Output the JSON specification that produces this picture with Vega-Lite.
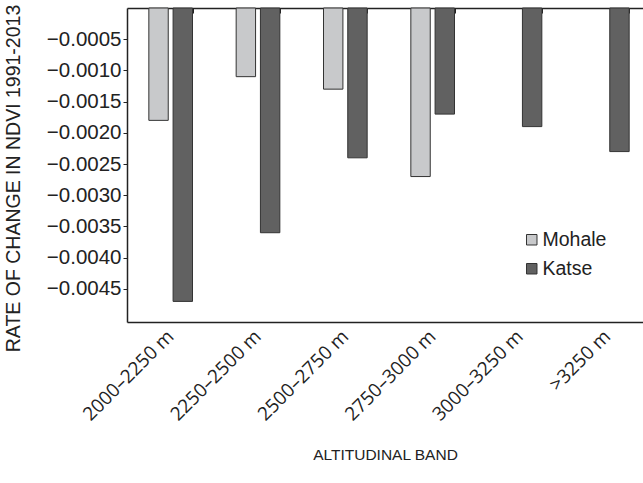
{
  "$schema": "https://vega.github.io/schema/vega-lite/v6.json",
  "autosize": {"type": "none"},
  "padding": {"left": 127, "top": 8, "right": 0, "bottom": 161},
  "width": 516,
  "height": 314,
  "background": "white",
  "config": {
    "view": {"stroke": null},
    "font": "Liberation Sans"
  },
  "data": {
    "values": [
      {"band": "2000–2250 m", "site": "Mohale", "value": -0.0018},
      {"band": "2000–2250 m", "site": "Katse", "value": -0.0047},
      {"band": "2250–2500 m", "site": "Mohale", "value": -0.0011},
      {"band": "2250–2500 m", "site": "Katse", "value": -0.0036},
      {"band": "2500–2750 m", "site": "Mohale", "value": -0.0013},
      {"band": "2500–2750 m", "site": "Katse", "value": -0.0024},
      {"band": "2750–3000 m", "site": "Mohale", "value": -0.0027},
      {"band": "2750–3000 m", "site": "Katse", "value": -0.0017},
      {"band": "3000–3250 m", "site": "Katse", "value": -0.0019},
      {"band": ">3250 m", "site": "Katse", "value": -0.0023}
    ]
  },
  "layer": [
    {
      "mark": {"type": "bar", "stroke": "#333333", "strokeWidth": 1},
      "encoding": {
        "x": {
          "field": "band",
          "type": "nominal",
          "sort": ["2000–2250 m", "2250–2500 m", "2500–2750 m", "2750–3000 m", "3000–3250 m", ">3250 m"],
          "scale": {"range": [0, 524], "paddingInner": 0.5, "paddingOuter": 0.25},
          "axis": {
            "orient": "bottom",
            "title": "ALTITUDINAL BAND",
            "titleFont": "Liberation Sans",
            "titleFontSize": 15.5,
            "titleFontWeight": "normal",
            "titleColor": "#222222",
            "titleX": 258,
            "titleY": 132,
            "titleBaseline": "middle",
            "titleAlign": "center",
            "labelAngle": -45,
            "labelAlign": "right",
            "labelBaseline": "middle",
            "labelFont": "Open Sans",
            "labelFontSize": 19,
            "labelColor": "#222222",
            "labelPadding": 11,
            "labelOverlap": false,
            "ticks": false,
            "domain": true,
            "domainColor": "#222222",
            "domainWidth": 1.5,
            "grid": false
          }
        },
        "xOffset": {
          "field": "site",
          "type": "nominal",
          "sort": ["Mohale", "Katse"],
          "scale": {"paddingInner": 0.2, "paddingOuter": 0}
        },
        "y": {
          "field": "value",
          "type": "quantitative",
          "scale": {"domain": [-0.00503, 0], "nice": false, "zero": false},
          "axis": {
            "values": [-0.0005, -0.001, -0.0015, -0.002, -0.0025, -0.003, -0.0035, -0.004, -0.0045],
            "format": ".4f",
            "title": "RATE OF CHANGE IN NDVI 1991-2013",
            "titleFont": "Liberation Sans",
            "titleFontSize": 19.5,
            "titleFontWeight": "normal",
            "titleColor": "#222222",
            "titleAngle": -90,
            "titleX": -114,
            "titleY": 170,
            "titleAlign": "center",
            "titleBaseline": "middle",
            "labelFont": "Liberation Sans",
            "labelFontSize": 20.5,
            "labelColor": "#222222",
            "labelPadding": 2,
            "tickSize": 4,
            "tickColor": "#222222",
            "domainColor": "#222222",
            "domainWidth": 1.5,
            "grid": false
          }
        },
        "fill": {
          "field": "site",
          "type": "nominal",
          "sort": ["Mohale", "Katse"],
          "scale": {"domain": ["Mohale", "Katse"], "range": ["#c8c9cb", "#616161"]},
          "legend": {
            "orient": "none",
            "legendX": 395,
            "legendY": 222,
            "title": null,
            "symbolType": "square",
            "symbolSize": 110,
            "symbolStrokeColor": "#333333",
            "symbolStrokeWidth": 1,
            "labelFont": "Liberation Sans",
            "labelFontSize": 19.5,
            "labelColor": "#222222",
            "labelOffset": 1,
            "rowPadding": 8
          }
        }
      }
    },
    {
      "mark": {"type": "rule", "strokeWidth": 0},
      "encoding": {
        "x": {
          "field": "band",
          "type": "nominal",
          "sort": ["2000–2250 m", "2250–2500 m", "2500–2750 m", "2750–3000 m", "3000–3250 m", ">3250 m"],
          "axis": {
            "orient": "top",
            "title": null,
            "labels": false,
            "ticks": true,
            "tickBand": "extent",
            "tickSize": -5,
            "tickColor": "#222222",
            "domain": true,
            "domainColor": "#222222",
            "domainWidth": 1.5,
            "grid": false
          }
        }
      }
    }
  ]
}
